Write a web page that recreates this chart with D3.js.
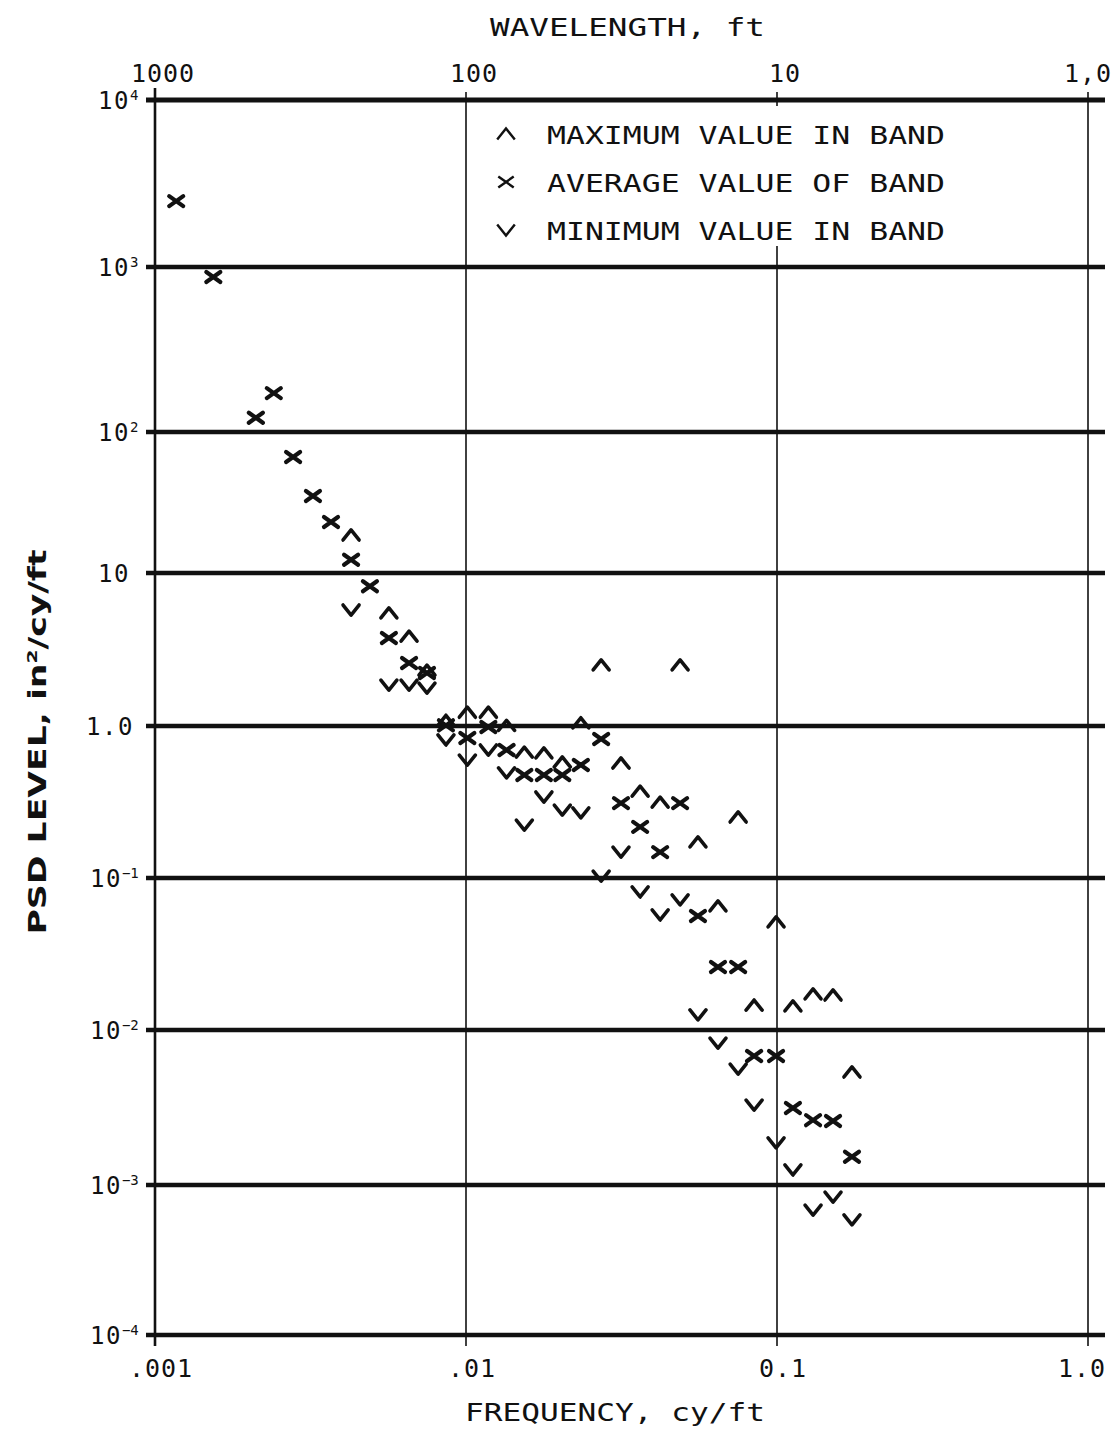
<!DOCTYPE html>
<meta charset="utf-8">
<style>
body { margin: 0; background: #fff; }
svg { display: block; background: #fff; }
.mono { font-family: "DejaVu Sans Mono", "Liberation Mono", monospace; fill: #111; }
.mark { fill: none; stroke: #111; stroke-width: 3.6; stroke-linecap: round; stroke-linejoin: round; }
.mark.avg { stroke-width: 4.2; }
</style>
<svg width="1118" height="1430"></svg>
<script src="https://d3js.org/d3.v7.min.js"></script>
<script>

// band centre frequencies, cy/ft
var freq = [0.00117, 0.00154, 0.00211, 0.00241, 0.00278, 0.00322, 0.00368, 0.00427, 0.00491, 0.00565,
            0.00656, 0.00749, 0.00862, 0.0101, 0.0118, 0.0135, 0.0154, 0.0178, 0.0204, 0.0234,
            0.0272, 0.0315, 0.0363, 0.0421, 0.0488, 0.0557, 0.0646, 0.0750, 0.0844, 0.0993,
            0.1125, 0.1306, 0.1514, 0.1742];

// PSD, in^2/cy/ft
var avgPsd = [2480, 870, 122, 172, 66.5, 35.2, 23.0, 12.4, 8.2, 3.76,
              2.58, 2.22, 1.01, 0.834, 0.985, 0.695, 0.476, 0.476, 0.476, 0.554,
              0.821, 0.311, 0.217, 0.148, 0.311, 0.0562, 0.0260, 0.0260, 0.00679, 0.00679,
              0.00314, 0.00262, 0.00259, 0.00152];

var maxPsd = [null, null, null, null, null, null, null, 18.6, null, 5.48,
              3.87, 2.32, 1.09, 1.23, 1.23, 1.01, 0.674, 0.665, 0.580, 1.05,
              2.51, 0.571, 0.373, 0.316, 2.51, 0.173, 0.0655, 0.252, 0.0146, 0.0514,
              0.0144, 0.0173, 0.0170, 0.00536];

var minPsd = [null, null, null, null, null, null, null, 5.73, null, 1.85,
              1.85, 1.77, 0.809, 0.597, 0.695, 0.491, 0.223, 0.341, 0.280, 0.268,
              0.103, 0.148, 0.0809, 0.0571, 0.0717, 0.01256, 0.00824, 0.00560, 0.00328, 0.00187,
              0.00125, 0.00068, 0.00083, 0.000585];

var xTicks = [0.001, 0.01, 0.1, 1];
var xTickLabels = [".001", ".01", "0.1", "1.0"];
var waveLabels = ["1000", "100", "10", "1,0"];
var yTicks = [1e4, 1e3, 1e2, 1e1, 1, 1e-1, 1e-2, 1e-3, 1e-4];
var yTickBase = ["10", "10", "10", "10", "1.0", "10", "10", "10", "10"];
var yTickSup = ["4", "3", "2", "", "", "\u22121", "\u22122", "\u22123", "\u22124"];
var legendLabels = ["MAXIMUM VALUE IN BAND", "AVERAGE VALUE OF BAND", "MINIMUM VALUE IN BAND"];

var svg = d3.select("svg");

var x = d3.scaleLog().domain([0.001, 1]).range([155, 1088]);
// the scanned decades are not quite even, so map each one
var y = d3.scaleLog().domain(yTicks).range([100, 267, 432, 573, 726, 878, 1030, 1185, 1335]);

var shapes = {
  max: "M-8,5L0,-5L8,5",
  avg: "M-7,-5L7,5M-7,5L7,-5",
  min: "M-8,-5L0,5L8,-5"
};

// vertical decade lines
svg.append("g").selectAll("line")
  .data(xTicks)
  .enter().append("line")
    .attr("x1", d => x(d)).attr("x2", d => x(d))
    .attr("y1", (d, i) => i == 0 ? 88 : 92)
    .attr("y2", 1346)
    .attr("stroke", "#111")
    .attr("stroke-width", (d, i) => i == 0 ? 2.6 : 1.6);

// horizontal decade lines, heavy
svg.append("g").selectAll("line")
  .data(yTicks)
  .enter().append("line")
    .attr("x1", 146).attr("x2", 1105)
    .attr("y1", d => y(d)).attr("y2", d => y(d))
    .attr("stroke", "#111")
    .attr("stroke-width", (d, i) => i == 0 ? 5.2 : 4.6);

// y tick labels
var yl = svg.append("g").selectAll("text")
  .data(yTicks)
  .enter().append("text")
    .attr("class", "mono")
    .attr("x", (d, i) => i == 4 ? 86 : (yTickSup[i].length > 1 ? 90 : 98))
    .attr("y", d => y(d) + 9)
    .style("font-size", "24px")
    .style("letter-spacing", "1.5px");
yl.append("tspan").text((d, i) => yTickBase[i]);
yl.append("tspan")
    .attr("dy", -9)
    .style("font-size", "14px")
    .style("letter-spacing", "0px")
    .text((d, i) => yTickSup[i]);

// bottom tick labels
svg.append("g").selectAll("text")
  .data(xTicks)
  .enter().append("text")
    .attr("class", "mono")
    .attr("x", (d, i) => x(d) + (i == 3 ? -6 : 6))
    .attr("y", 1377)
    .attr("text-anchor", "middle")
    .style("font-size", "25px")
    .style("letter-spacing", "1px")
    .text((d, i) => xTickLabels[i]);

// top wavelength labels
svg.append("g").selectAll("text")
  .data(xTicks)
  .enter().append("text")
    .attr("class", "mono")
    .attr("x", (d, i) => x(d) + (i == 3 ? 0 : 8))
    .attr("y", 82)
    .attr("text-anchor", "middle")
    .style("font-size", "25px")
    .style("letter-spacing", "1px")
    .text((d, i) => waveLabels[i]);

svg.append("text")
    .attr("class", "mono")
    .attr("x", 490).attr("y", 36)
    .attr("textLength", 275).attr("lengthAdjust", "spacingAndGlyphs")
    .style("font-size", "25px")
    .text("WAVELENGTH, ft");

svg.append("text")
    .attr("class", "mono")
    .attr("x", 465).attr("y", 1421)
    .attr("textLength", 300).attr("lengthAdjust", "spacingAndGlyphs")
    .style("font-size", "25px")
    .text("FREQUENCY, cy/ft");

var ytitle = svg.append("text")
    .attr("transform", "translate(46,742) rotate(-90)")
    .attr("text-anchor", "middle")
    .attr("textLength", 385).attr("lengthAdjust", "spacingAndGlyphs")
    .style("font-family", "'DejaVu Sans', sans-serif")
    .style("font-weight", "bold")
    .style("font-size", "24px")
    .style("fill", "#111");
ytitle.append("tspan").text("PSD LEVEL,  in");
ytitle.append("tspan").attr("dy", -9).style("font-size", "14px").text("2");
ytitle.append("tspan").attr("dy", 9).text("/cy/ft");

// legend, white box hides the 0.1 line behind it
var legend = svg.append("g");
legend.append("rect")
    .attr("x", 488).attr("y", 106).attr("width", 470).attr("height", 140)
    .attr("fill", "#fff");
var li = legend.selectAll("g")
  .data(["max", "avg", "min"])
  .enter().append("g")
    .attr("transform", (d, i) => "translate(0," + (134 + i * 48) + ")");
li.append("path")
    .attr("transform", "translate(506,0) scale(1.1)")
    .attr("d", d => shapes[d])
    .attr("fill", "none").attr("stroke", "#111").attr("stroke-width", 2.2);
li.append("text")
    .attr("class", "mono")
    .attr("x", 547).attr("y", 10)
    .attr("textLength", 398).attr("lengthAdjust", "spacingAndGlyphs")
    .style("font-size", "25px")
    .text((d, i) => legendLabels[i]);

// data marks
var series = [
  { key: "max", values: maxPsd },
  { key: "avg", values: avgPsd },
  { key: "min", values: minPsd }
];

series.forEach(function(s) {
  var pts = freq.map((f, i) => ({ f: f, v: s.values[i] })).filter(d => d.v != null);
  svg.append("g").selectAll("path")
    .data(pts)
    .enter().append("path")
      .attr("class", "mark " + s.key)
      .attr("transform", d => "translate(" + x(d.f) + "," + y(d.v) + ")")
      .attr("d", shapes[s.key]);
});

</script>
